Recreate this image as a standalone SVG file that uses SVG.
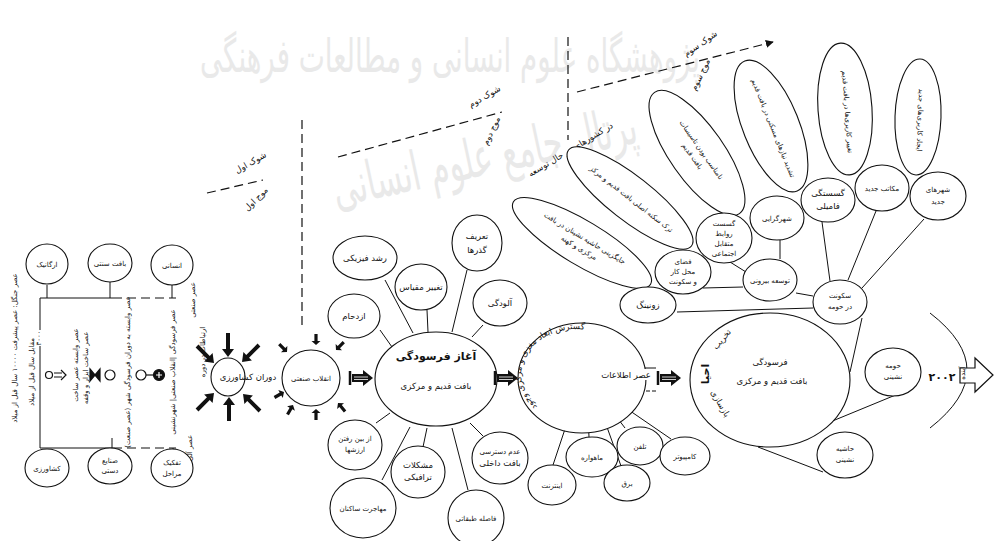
<svg xmlns="http://www.w3.org/2000/svg" width="999" height="541" viewBox="0 0 999 541">
<style>
.n{fill:#fff;stroke:#111;stroke-width:1.1}
.t{font-family:"DejaVu Sans",sans-serif;font-size:8.5px;fill:#111;text-anchor:middle}
.s{font-size:7px}
.b{font-size:11px;font-weight:bold}
.c{stroke:#111;stroke-width:1;fill:none}
.d{stroke:#111;stroke-width:1.2;fill:none;stroke-dasharray:9 5}
.w{font-family:"DejaVu Sans",sans-serif;fill:#e9e9e9;text-anchor:middle}
</style>
<defs>
<g id="ta"><path d="M-24,-2 L-8,-2 L-8,-6 L0,0 L-8,6 L-8,2 L-24,2 Z" fill="#111"/></g>
<g id="sa"><path d="M-11,-1.6 L-4,-1.6 L-4,-4.5 L0,0 L-4,4.5 L-4,1.6 L-11,1.6 Z" fill="#111"/></g>
<g id="ba"><path d="M-10,-4 L1,-4 L1,-8 L11,0 L1,8 L1,4 L-10,4 Z" fill="#111"/><path d="M-8,-1 L6,-1 M-8,1.5 L6,1.5" stroke="#fff" stroke-width="0.8"/><path d="M-12,-7 L-12,7" stroke="#111" stroke-width="2.5"/></g>
<marker id="ah" viewBox="0 0 10 10" refX="9" refY="5" markerWidth="8" markerHeight="8" orient="auto" markerUnits="userSpaceOnUse"><path d="M0,0 L10,5 L0,10 Z" fill="#111"/></marker>
</defs>
<rect width="999" height="541" fill="#fff"/>

<g id="watermark">
<text class="w" x="450" y="72" font-size="46" textLength="500" lengthAdjust="spacingAndGlyphs">پژوهشگاه علوم انسانی و مطالعات فرهنگی</text>
<text class="w" x="485" y="175" font-size="54" textLength="310" lengthAdjust="spacingAndGlyphs" transform="rotate(-12 485 160)">پرتال جامع علوم انسانی</text>
</g>

<g id="connectors">
<path class="c" d="M47,285 V298 M110,282 V298 M172,285 V298 M40,298 H113 M40,298 V330 M40,346 V448 M40,448 H113 M112,438 V448 M173,448 V450"/>
<path class="d" d="M113,298 H176 M113,448 H176" stroke-width="1"/>
<path class="d" d="M207,193 L263,180"/>
<path class="d" d="M302,120 V325"/>
<path class="d" d="M338,157 L502,112"/>
<path class="d" d="M568,37 V140"/>
<path class="d" d="M577,92 L773,42" marker-end="url(#ah)"/>
<path class="c" d="M380,330 L392,347 M385,280 L413,333 M427,310 L428,332 M467,270 L452,332 M483,325 L472,337"/>
<path class="c" d="M390,413 L376,423 M410,427 L382,480 M427,428 L423,447 M452,428 L468,490 M470,423 L483,436"/>
<path class="c" d="M656,368 L592,368 Q584,368 582,378 L553,465"/>
<path class="c" d="M586,374 L589,437"/>
<path class="c" d="M590,380 L621,466"/>
<path class="c" d="M593,386 L625,428"/>
<path class="c" d="M604,391 L656,391" stroke-dasharray="4 2"/>
<path class="c" d="M604,393 L671,439"/>
<path class="c" d="M677,312 L813,308"/>
<path class="c" d="M703,288 L743,287"/>
<path class="c" d="M730,262 L746,272"/>
<path class="c" d="M780,240 L780,259"/>
<path class="c" d="M796,293 L813,296"/>
<path class="c" d="M822,222 L830,281"/>
<path class="c" d="M876,211 L848,280"/>
<path class="c" d="M924,219 L862,288"/>
<path class="c" d="M862,318 L850,372"/>
<path class="c" d="M830,422 L898,394"/>
<path class="c" d="M758,447 L823,472"/>
<path class="c" d="M930,313 Q1004,370 930,428" stroke-width="1.2"/>
</g>

<g id="left-panel">
<g id="n-organic"><ellipse class="n" cx="47" cy="264" rx="21" ry="20"/><text class="t s" x="47" y="267">ارگانیک</text></g>
<g id="n-sonnati"><ellipse class="n" cx="110" cy="263" rx="22" ry="19"/><text class="t s" x="110" y="266">بافت سنتی</text></g>
<g id="n-ensani"><ellipse class="n" cx="172" cy="265" rx="21" ry="20"/><text class="t s" x="172" y="268">انسانی</text></g>
<g id="n-keshavarzi"><ellipse class="n" cx="47" cy="468" rx="22" ry="19"/><text class="t s" x="47" y="471">کشاورزی</text></g>
<g id="n-sanaye"><ellipse class="n" cx="110" cy="466" rx="22" ry="18"/><text class="t s" x="110" y="463">صنایع</text><text class="t s" x="110" y="473">دستی</text></g>
<g id="n-tafkik"><ellipse class="n" cx="172" cy="468" rx="21" ry="19"/><text class="t s" x="172" y="465">تفکیک</text><text class="t s" x="172" y="476">مراحل</text></g>
<text class="t s" transform="translate(17,348) rotate(-90)">عصر جنگل: عصر پیشرفت ۱۰۰۰۰ سال قبل از میلاد</text>
<text class="t s" transform="translate(41,338) rotate(-90)">۳۰۰۰</text>
<text class="t s" transform="translate(34,372) rotate(-90)">مقابل سال قبل از میلاد</text>
<text class="t s" transform="translate(78,365) rotate(-90)">عصر وابسته عصر ساخت</text>
<text class="t s" transform="translate(88,368) rotate(-90)">عصر ساخت ابزار و وقفه</text>
<text class="t s" transform="translate(130,372) rotate(-90)">عصر وابسته به دوران فرسودگی شهر (عصر صنعت)</text>
<text class="t s" transform="translate(175,372) rotate(-90)">عصر فرسودگی |انقلاب صنعتی| شهرنشینی</text>
<text class="t s" transform="translate(195,300) rotate(-90)">عصر صنعتی</text>
<text class="t s" transform="translate(205,352) rotate(-90)">ارتباطات در دوره</text>
<text class="t s" transform="translate(192,448) rotate(-90)">عصر آلی</text>
<g id="icons" fill="none" stroke="#111" stroke-width="1.2">
<circle cx="49" cy="375" r="3.5"/><path d="M54,373 H62 M54,377 H62 M61,370 L66,375 L61,380"/>
<path d="M90,369 L100,381 L100,369 L90,381 Z" fill="#111"/><circle cx="110" cy="375" r="5"/>
<circle cx="141" cy="375" r="5"/><path d="M146,375 H153"/><circle cx="159" cy="375" r="5.5" fill="#111"/><path d="M156,375 H162 M159,372 V378" stroke="#fff"/>
</g>
</g>

<g id="n-agri">
<use href="#ta" transform="translate(228,357) rotate(90)"/>
<use href="#ta" transform="translate(214,363) rotate(45)"/>
<use href="#ta" transform="translate(242,362) rotate(135)"/>
<use href="#ta" transform="translate(229,397) rotate(-90)"/>
<use href="#ta" transform="translate(214,393) rotate(-45)"/>
<use href="#ta" transform="translate(243,394) rotate(-135)"/>
<ellipse class="n" cx="228" cy="377" rx="17" ry="19"/>
<text class="t" x="248" y="380">دوران کشاورزی</text>
</g>

<g id="n-industrial">
<use href="#sa" transform="translate(287,352) rotate(45)"/>
<use href="#sa" transform="translate(316,345) rotate(90)"/>
<use href="#sa" transform="translate(336,350) rotate(135)"/>
<use href="#sa" transform="translate(284,392) rotate(-30)"/>
<use href="#sa" transform="translate(293,405) rotate(-60)"/>
<use href="#sa" transform="translate(316,409) rotate(-90)"/>
<use href="#sa" transform="translate(338,403) rotate(-130)"/>
<ellipse class="n" cx="311" cy="378" rx="29" ry="28"/>
<text class="t s" x="311" y="381">انقلاب صنعتی</text>
<use href="#ba" transform="translate(362,378)"/>
</g>

<g id="n-main">
<ellipse class="n" cx="436" cy="379" rx="61" ry="47"/>
<text class="t b" x="436" y="360">آغاز فرسودگی</text>
<text class="t" x="436" y="389" font-size="10">بافت قدیم و مرکزی</text>
<use href="#ba" transform="translate(507,378)"/>
</g>
<g id="n-ezdeham"><ellipse class="n" cx="354" cy="316" rx="26" ry="22"/><text class="t" x="354" y="319">ازدحام</text></g>
<g id="n-roshd"><ellipse class="n" cx="365" cy="258" rx="32" ry="22"/><text class="t" x="365" y="261">رشد فیزیکی</text></g>
<g id="n-meghyas"><ellipse class="n" cx="421" cy="287" rx="26" ry="23"/><text class="t" x="421" y="290">تغییر مقیاس</text></g>
<g id="n-gozarha"><ellipse class="n" cx="477" cy="243" rx="25" ry="28"/><text class="t" x="477" y="239">تعریف</text><text class="t" x="477" y="253">گذرها</text></g>
<g id="n-aloodegi"><ellipse class="n" cx="500" cy="303" rx="27" ry="23"/><text class="t" x="500" y="306">آلودگی</text></g>
<g id="n-arzesh"><ellipse class="n" cx="355" cy="445" rx="27" ry="25"/><text class="t s" x="355" y="441">از بین رفتن</text><text class="t s" x="355" y="452">ارزشها</text></g>
<g id="n-terafik"><ellipse class="n" cx="418" cy="472" rx="27" ry="26"/><text class="t" x="418" y="468">مشکلات</text><text class="t" x="418" y="480">ترافیکی</text></g>
<g id="n-dakheli"><ellipse class="n" cx="500" cy="458" rx="28" ry="26"/><text class="t s" x="500" y="454">عدم دسترسی</text><text class="t" x="500" y="466">بافت داخلی</text></g>
<g id="n-mohajerat"><ellipse class="n" cx="363" cy="508" rx="33" ry="30"/><text class="t s" x="363" y="511">مهاجرت ساکنان</text></g>
<g id="n-tabaghati"><ellipse class="n" cx="476" cy="518" rx="28" ry="28"/><text class="t s" x="476" y="521">فاصله طبقاتی</text></g>

<g id="n-expansion">
<ellipse class="n" cx="582" cy="378" rx="64" ry="55"/>
<path id="arc3" d="M551,415 A54,45 0 0 1 600,334" fill="none"/>
<text class="t" font-size="8.5"><textPath href="#arc3" startOffset="50%">گسترش ابعاد مغزی و مرکزی وجود</textPath></text>
<rect x="598" y="369" width="56" height="11" fill="#fff"/>
<text class="t" x="626" y="378">عصر اطلاعات</text>
<use href="#ba" transform="translate(670,378)"/>
</g>
<g id="n-internet"><ellipse class="n" cx="552" cy="485" rx="24" ry="20"/><text class="t s" x="552" y="488">اینترنت</text></g>
<g id="n-mahvare"><ellipse class="n" cx="592" cy="457" rx="26" ry="20"/><text class="t s" x="592" y="460">ماهواره</text></g>
<g id="n-telefon"><ellipse class="n" cx="640" cy="446" rx="23" ry="19"/><text class="t s" x="640" y="449">تلفن</text></g>
<g id="n-bargh"><ellipse class="n" cx="627" cy="483" rx="23" ry="18"/><text class="t s" x="627" y="486">برق</text></g>
<g id="n-computer"><ellipse class="n" cx="685" cy="456" rx="25" ry="19"/><text class="t s" x="685" y="459">کامپیوتر</text></g>

<g id="developing-label">
<text class="t" transform="translate(572,152) rotate(-31)">در کشورهای در حال توسعه</text>
</g>
<g id="n-jaygozini"><ellipse class="n" cx="582" cy="243" rx="80" ry="22" transform="rotate(31 582 243)"/><g transform="translate(582,243) rotate(31)"><text class="t s" x="0" y="-3">جایگزینی حاشیه نشینان در بافت</text><text class="t s" x="0" y="8">مرکزی و کهنه</text></g></g>
<g id="n-tark"><ellipse class="n" cx="630" cy="198" rx="78" ry="22" transform="rotate(38 630 198)"/><text class="t s" transform="translate(630,201) rotate(38)">ترک سکنه اصلی بافت قدیم و مرکز</text></g>
<g id="n-tasisat"><ellipse class="n" cx="697" cy="153" rx="74" ry="27" transform="rotate(55 697 153)"/><g transform="translate(697,153) rotate(55)"><text class="t s" x="0" y="-3">نامناسب بودن تاسیسات</text><text class="t s" x="0" y="8">بافت قدیم</text></g></g>
<g id="n-tashdid"><ellipse class="n" cx="771" cy="126" rx="70" ry="28" transform="rotate(68 771 126)"/><text class="t s" transform="translate(771,129) rotate(68)">تشدید نیازهای مسکنی در بافت قدیم</text></g>
<g id="n-taghyir"><ellipse class="n" cx="845" cy="109" rx="66" ry="27" transform="rotate(86 845 109)"/><text class="t s" transform="translate(845,112) rotate(86)">تغییر کاربری‌ها در بافت قدیم</text></g>
<g id="n-ijad"><ellipse class="n" cx="918" cy="117" rx="58" ry="23" transform="rotate(92 918 117)"/><text class="t s" transform="translate(918,120) rotate(92)">ایجاد کاربری‌های جدید</text></g>

<g id="n-zoning"><ellipse class="n" cx="648" cy="305" rx="28" ry="18"/><text class="t" x="648" y="308">زونینگ</text></g>
<g id="n-fazay"><ellipse class="n" cx="683" cy="272" rx="28" ry="22"/><text class="t s" x="683" y="264">فضای</text><text class="t s" x="683" y="274">محل کار</text><text class="t s" x="683" y="284">و سکونت</text></g>
<g id="n-gosast"><ellipse class="n" cx="724" cy="238" rx="28" ry="25"/><text class="t s" x="724" y="226">گسست</text><text class="t s" x="724" y="236">روابط</text><text class="t s" x="724" y="246">متقابل</text><text class="t s" x="724" y="256">اجتماعی</text></g>
<g id="n-shahrgerayi"><ellipse class="n" cx="777" cy="218" rx="27" ry="22"/><text class="t s" x="777" y="221">شهرگرایی</text></g>
<g id="n-tose"><ellipse class="n" cx="770" cy="280" rx="27" ry="21"/><text class="t s" x="770" y="283">توسعه بیرونی</text></g>
<g id="n-gosastegi"><ellipse class="n" cx="828" cy="200" rx="27" ry="22"/><text class="t" x="828" y="196">گسستگی</text><text class="t" x="828" y="209">فامیلی</text></g>
<g id="n-makateb"><ellipse class="n" cx="882" cy="188" rx="27" ry="23"/><text class="t s" x="882" y="191">مکاتب جدید</text></g>
<g id="n-shahrha"><ellipse class="n" cx="938" cy="196" rx="28" ry="24"/><text class="t s" x="938" y="192">شهرهای</text><text class="t s" x="938" y="204">جدید</text></g>
<g id="n-sokunat"><ellipse class="n" cx="840" cy="302" rx="27" ry="22"/><text class="t s" x="840" y="298">سکونت</text><text class="t s" x="840" y="309">در حومه</text></g>

<g id="n-farsoodegi">
<ellipse class="n" cx="770" cy="380" rx="80" ry="67"/>
<text class="t" x="770" y="365" font-size="9.5">فرسودگی</text>
<text class="t" x="772" y="384" font-size="9.5">بافت قدیم و مرکزی</text>
<text class="t" transform="translate(724,341) rotate(-50)">تخریب</text>
<text class="t b" transform="translate(709,374) rotate(-90)">احیا</text>
<text class="t" transform="translate(718,405) rotate(60)">بازسازی</text>
</g>
<g id="n-hoome"><ellipse class="n" cx="893" cy="372" rx="28" ry="24"/><text class="t s" x="893" y="368">حومه</text><text class="t s" x="893" y="379">نشینی</text></g>
<g id="n-hashie"><ellipse class="n" cx="845" cy="455" rx="28" ry="23"/><text class="t s" x="845" y="451">حاشیه</text><text class="t s" x="845" y="462">نشینی</text></g>

<g id="future">
<text class="t b" x="942" y="381">۲۰۰۲</text>
<path d="M960,368 H975 V358 L993,375 L975,392 V383 H960 Z" fill="#fff" stroke="#111" stroke-width="1.2"/>
<text class="t s" transform="translate(965,373) rotate(-90)">آینده</text>
</g>

<g id="shock-labels">
<text class="t" transform="translate(252,165) rotate(-30)">شوک اول</text>
<text class="t" transform="translate(258,201) rotate(-45)">موج اول</text>
<text class="t" transform="translate(486,99) rotate(-30)">شوک دوم</text>
<text class="t" transform="translate(494,132) rotate(-65)">موج دوم</text>
<text class="t" transform="translate(702,46) rotate(-35)">شوک سوم</text>
<text class="t" transform="translate(703,76) rotate(-65)">موج سوم</text>
</g>
</svg>
